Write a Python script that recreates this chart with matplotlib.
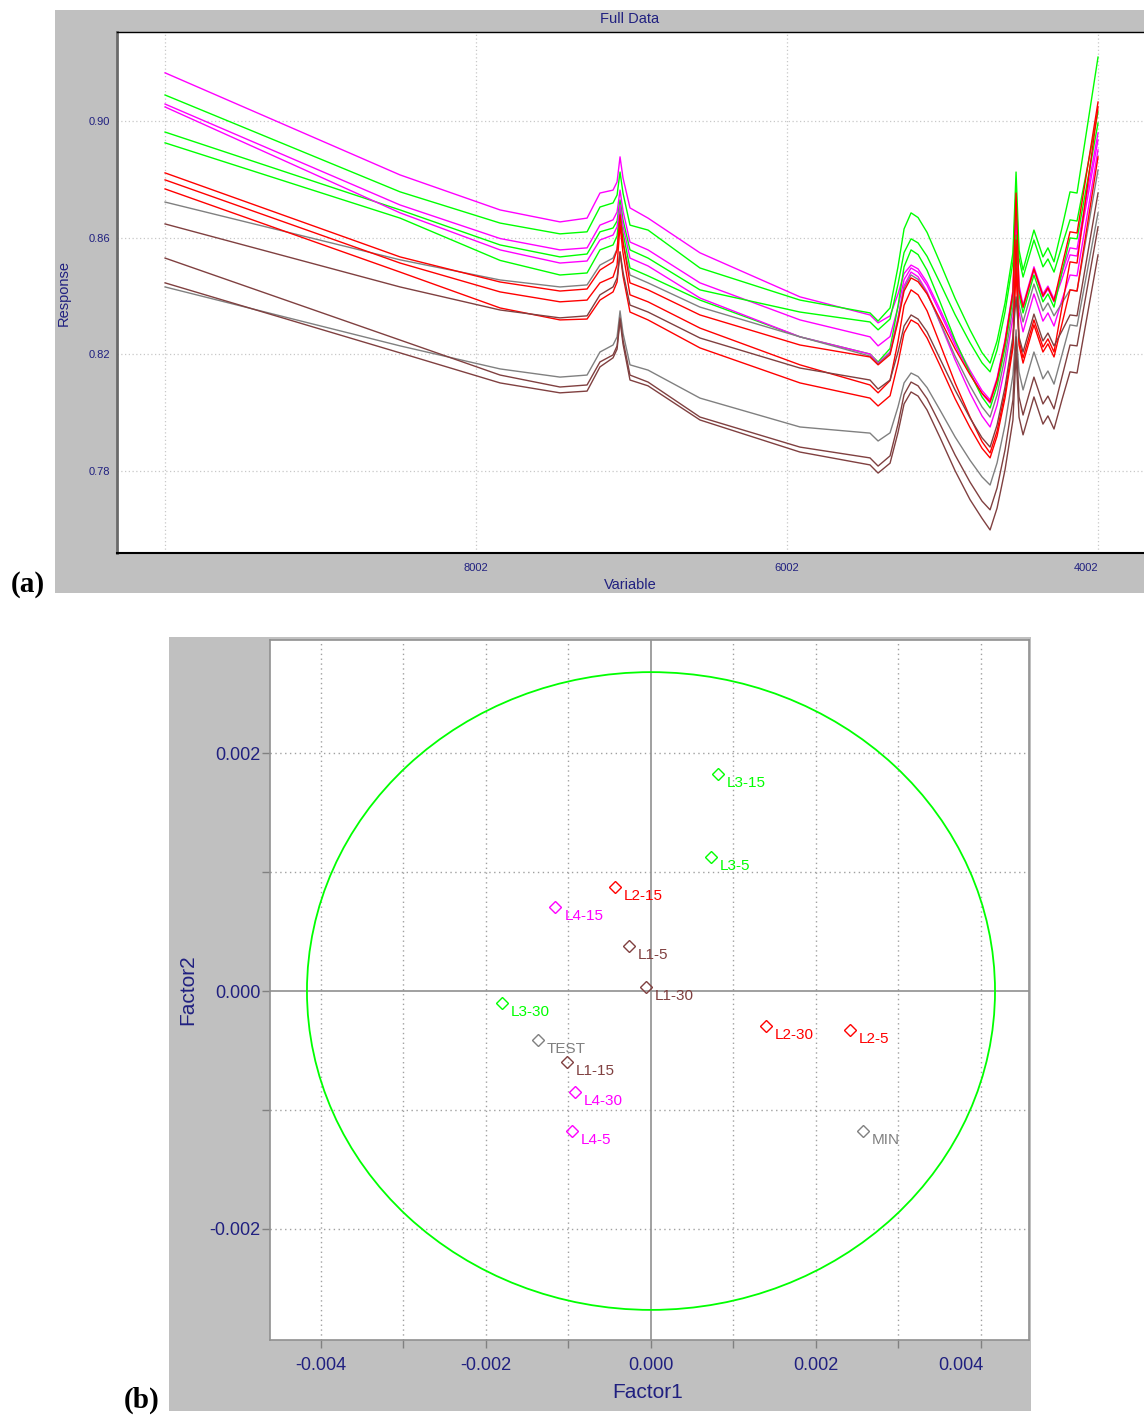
import matplotlib
matplotlib.use("Agg")
import matplotlib.pyplot as plt
import matplotlib.transforms as mtransforms
from matplotlib.patches import Rectangle, Ellipse
from matplotlib import font_manager

_names = {f.name for f in font_manager.fontManager.ttflist}
SANS = "Liberation Sans" if "Liberation Sans" in _names else "DejaVu Sans"
NARROW = "Liberation Sans Narrow" if "Liberation Sans Narrow" in _names else SANS
SERIF = "Liberation Serif" if "Liberation Serif" in _names else "DejaVu Serif"

# ---------------- panel (a): spectra ----------------
wavenumber = [10002, 8491, 7848, 7463, 7289, 7206, 7122, 7096, 7077, 7058, 7013, 6897,
              6563, 5920, 5470, 5418, 5341, 5290, 5251, 5206, 5161, 5103, 5020, 4923,
              4827, 4750, 4698, 4653, 4602, 4551, 4531, 4512, 4486, 4416, 4358, 4326,
              4287, 4236, 4184, 4139, 4004]

spec_L4_a = [0.9165, 0.8815, 0.8695, 0.8654, 0.8667, 0.8753, 0.8763, 0.8791, 0.8877, 0.8805, 0.8702, 0.8667,
             0.8548, 0.8397, 0.8335, 0.8308, 0.8332, 0.8407, 0.8477, 0.8506, 0.8493, 0.8446, 0.8354, 0.8242,
             0.8145, 0.8076, 0.8044, 0.8119, 0.8249, 0.8421, 0.8685, 0.8438, 0.8369, 0.8500, 0.8407, 0.8434,
             0.8390, 0.8479, 0.8565, 0.8561, 0.8959]
spec_L3_a = [0.9089, 0.8757, 0.8650, 0.8613, 0.8620, 0.8705, 0.8719, 0.8746, 0.8825, 0.8753, 0.8643, 0.8626,
             0.8496, 0.8386, 0.8342, 0.8314, 0.8359, 0.8500, 0.8630, 0.8685, 0.8669, 0.8618, 0.8515, 0.8392,
             0.8284, 0.8206, 0.8170, 0.8246, 0.8376, 0.8548, 0.8825, 0.8558, 0.8489, 0.8626, 0.8534, 0.8565,
             0.8517, 0.8633, 0.8757, 0.8753, 0.9219]
spec_L4_b = [0.9058, 0.8712, 0.8597, 0.8558, 0.8565, 0.8643, 0.8661, 0.8688, 0.8763, 0.8692, 0.8585, 0.8558,
             0.8445, 0.8318, 0.8260, 0.8229, 0.8261, 0.8362, 0.8456, 0.8496, 0.8482, 0.8436, 0.8343, 0.8232,
             0.8135, 0.8065, 0.8033, 0.8109, 0.8239, 0.8410, 0.8661, 0.8421, 0.8359, 0.8489, 0.8397, 0.8424,
             0.8380, 0.8458, 0.8541, 0.8537, 0.8935]
spec_L3_b = [0.8962, 0.8695, 0.8575, 0.8534, 0.8544, 0.8620, 0.8633, 0.8657, 0.8729, 0.8661, 0.8558, 0.8530,
             0.8421, 0.8345, 0.8311, 0.8284, 0.8321, 0.8440, 0.8549, 0.8596, 0.8582, 0.8536, 0.8445, 0.8336,
             0.8240, 0.8171, 0.8140, 0.8215, 0.8345, 0.8517, 0.8763, 0.8530, 0.8465, 0.8592, 0.8500, 0.8527,
             0.8482, 0.8572, 0.8661, 0.8657, 0.9031]
spec_L3_c = [0.8925, 0.8667, 0.8522, 0.8472, 0.8479, 0.8558, 0.8575, 0.8606, 0.8695, 0.8616, 0.8496, 0.8469,
             0.8386, 0.8260, 0.8201, 0.8174, 0.8220, 0.8366, 0.8500, 0.8558, 0.8542, 0.8488, 0.8380, 0.8249,
             0.8136, 0.8054, 0.8016, 0.8092, 0.8222, 0.8393, 0.8609, 0.8404, 0.8342, 0.8472, 0.8380, 0.8407,
             0.8362, 0.8482, 0.8599, 0.8596, 0.8993]
spec_L4_c = [0.9048, 0.8685, 0.8558, 0.8513, 0.8520, 0.8592, 0.8609, 0.8637, 0.8712, 0.8640, 0.8530, 0.8503,
             0.8393, 0.8260, 0.8201, 0.8170, 0.8208, 0.8326, 0.8435, 0.8482, 0.8466, 0.8414, 0.8308, 0.8181,
             0.8068, 0.7989, 0.7951, 0.8026, 0.8157, 0.8328, 0.8541, 0.8345, 0.8277, 0.8407, 0.8314, 0.8342,
             0.8297, 0.8386, 0.8472, 0.8469, 0.8901]
spec_TEST = [0.8722, 0.8524, 0.8455, 0.8431, 0.8438, 0.8506, 0.8530, 0.8561, 0.8661, 0.8585, 0.8472, 0.8445,
             0.8362, 0.8260, 0.8194, 0.8167, 0.8204, 0.8320, 0.8426, 0.8472, 0.8457, 0.8409, 0.8311, 0.8194,
             0.8092, 0.8020, 0.7985, 0.8061, 0.8191, 0.8362, 0.8524, 0.8369, 0.8311, 0.8441, 0.8349, 0.8376,
             0.8332, 0.8376, 0.8421, 0.8417, 0.8832]
spec_L2_a = [0.8822, 0.8534, 0.8448, 0.8417, 0.8424, 0.8489, 0.8517, 0.8558, 0.8678, 0.8585, 0.8445, 0.8421,
             0.8335, 0.8232, 0.8191, 0.8164, 0.8199, 0.8313, 0.8417, 0.8462, 0.8449, 0.8407, 0.8321, 0.8219,
             0.8130, 0.8067, 0.8037, 0.8112, 0.8242, 0.8414, 0.8753, 0.8421, 0.8362, 0.8493, 0.8400, 0.8428,
             0.8383, 0.8503, 0.8620, 0.8616, 0.9065]
spec_L2_b = [0.8798, 0.8513, 0.8414, 0.8380, 0.8386, 0.8445, 0.8465, 0.8506, 0.8643, 0.8548, 0.8404, 0.8380,
             0.8290, 0.8164, 0.8095, 0.8068, 0.8110, 0.8244, 0.8368, 0.8421, 0.8404, 0.8349, 0.8236, 0.8102,
             0.7985, 0.7901, 0.7862, 0.7937, 0.8068, 0.8239, 0.8592, 0.8249, 0.8188, 0.8318, 0.8225, 0.8253,
             0.8208, 0.8362, 0.8517, 0.8513, 0.9048]
spec_L2_c = [0.8767, 0.8482, 0.8359, 0.8318, 0.8321, 0.8386, 0.8414, 0.8448, 0.8551, 0.8469, 0.8345, 0.8318,
             0.8222, 0.8102, 0.8050, 0.8023, 0.8058, 0.8170, 0.8273, 0.8318, 0.8304, 0.8256, 0.8162, 0.8048,
             0.7949, 0.7878, 0.7845, 0.7920, 0.8050, 0.8222, 0.8496, 0.8232, 0.8170, 0.8301, 0.8208, 0.8236,
             0.8191, 0.8304, 0.8421, 0.8417, 0.8877]
spec_L1_a = [0.8647, 0.8431, 0.8352, 0.8325, 0.8332, 0.8404, 0.8431, 0.8462, 0.8551, 0.8482, 0.8369, 0.8345,
             0.8256, 0.8153, 0.8112, 0.8081, 0.8112, 0.8208, 0.8297, 0.8335, 0.8321, 0.8277, 0.8185, 0.8078,
             0.7982, 0.7914, 0.7882, 0.7958, 0.8088, 0.8260, 0.8397, 0.8260, 0.8208, 0.8338, 0.8246, 0.8273,
             0.8229, 0.8280, 0.8335, 0.8332, 0.8753]
spec_MIN = [0.8431, 0.8229, 0.8150, 0.8122, 0.8129, 0.8208, 0.8232, 0.8260, 0.8349, 0.8273, 0.8164, 0.8146,
            0.8050, 0.7951, 0.7930, 0.7903, 0.7931, 0.8020, 0.8102, 0.8136, 0.8124, 0.8086, 0.8009, 0.7917,
            0.7837, 0.7780, 0.7752, 0.7828, 0.7958, 0.8129, 0.8284, 0.8140, 0.8078, 0.8208, 0.8116, 0.8143,
            0.8098, 0.8198, 0.8301, 0.8297, 0.8685]
spec_L1_b = [0.8530, 0.8249, 0.8129, 0.8088, 0.8095, 0.8174, 0.8198, 0.8229, 0.8325, 0.8249, 0.8129, 0.8105,
             0.7985, 0.7882, 0.7845, 0.7817, 0.7852, 0.7961, 0.8062, 0.8105, 0.8092, 0.8048, 0.7961, 0.7855,
             0.7762, 0.7697, 0.7667, 0.7742, 0.7872, 0.8044, 0.8260, 0.8054, 0.7992, 0.8122, 0.8030, 0.8057,
             0.8013, 0.8122, 0.8232, 0.8229, 0.8637]
spec_L1_c = [0.8445, 0.8205, 0.8102, 0.8068, 0.8074, 0.8157, 0.8188, 0.8218, 0.8318, 0.8236, 0.8112, 0.8092,
             0.7975, 0.7865, 0.7821, 0.7793, 0.7827, 0.7932, 0.8030, 0.8071, 0.8057, 0.8009, 0.7915, 0.7801,
             0.7702, 0.7638, 0.7598, 0.7673, 0.7804, 0.7975, 0.8205, 0.7985, 0.7924, 0.8054, 0.7961, 0.7989,
             0.7944, 0.8044, 0.8140, 0.8136, 0.8541]

x_ticks_a = [8002, 6002, 4002]
x_grid_a = [10002, 8002, 6002, 4002]
y_ticks_a = [0.78, 0.82, 0.86, 0.90]

# ---------------- panel (b): scores ----------------
samples = ["L3-15", "L3-5", "L2-15", "L4-15", "L1-5", "L1-30", "L3-30",
           "TEST", "L1-15", "L4-30", "L4-5", "L2-30", "L2-5", "MIN"]
factor1 = [0.00081, 0.00073, -0.00044, -0.00116, -0.00027, -0.00006, -0.00181,
           -0.00137, -0.00102, -0.00092, -0.00096, 0.00139, 0.00241, 0.00257]
factor2 = [0.00182, 0.00113, 0.00087, 0.00071, 0.00038, 0.00003, -0.00010,
           -0.00041, -0.00060, -0.00085, -0.00118, -0.00029, -0.00033, -0.00118]
ellipse_semi_f1 = 0.00417
ellipse_semi_f2 = 0.00268
x_ticks_b = [-0.004, -0.002, 0.000, 0.002, 0.004]
x_minor_b = [-0.003, -0.001, 0.001, 0.003]
y_ticks_b = [-0.002, 0.000, 0.002]
y_minor_b = [-0.001, 0.001]

GROUP_COLORS = {"L1": "#804040", "L2": "#FF0000", "L3": "#00FF00", "L4": "#FF00FF",
                "TEST": "#808080", "MIN": "#808080"}
NAVY = "#202080"

W, H = 1144, 1416
fig = plt.figure(figsize=(W / 100, H / 100), dpi=100)
fig.patch.set_facecolor("white")

# ---- panel (a) ----
fig.add_artist(Rectangle((55 / W, 1 - 593 / H), (W - 55) / W, 583 / H,
                         transform=fig.transFigure, facecolor="#C0C0C0",
                         edgecolor="none", zorder=0))
ax1 = fig.add_axes([117 / W, 1 - 553 / H, (1180 - 117) / W, 521 / H])
ax1.set_facecolor("white")
ax1.set_xlim(10311, 3477)
ax1.set_ylim(0.7519, 0.9305)

for xg in x_grid_a:
    ax1.axvline(xg, color="#C8C8C8", lw=0.9, ls=(0, (1, 2)), zorder=1)
for yg in y_ticks_a:
    ax1.axhline(yg, color="#C8C8C8", lw=0.9, ls=(0, (1, 2)), zorder=1)

series_a = [
    (spec_L4_a, "L4"), (spec_L3_a, "L3"), (spec_L4_b, "L4"), (spec_L3_b, "L3"),
    (spec_L3_c, "L3"), (spec_L4_c, "L4"), (spec_TEST, "TEST"), (spec_L2_a, "L2"),
    (spec_L2_b, "L2"), (spec_L2_c, "L2"), (spec_L1_a, "L1"), (spec_MIN, "MIN"),
    (spec_L1_b, "L1"), (spec_L1_c, "L1"),
]
for vals, grp in series_a:
    ax1.plot(wavenumber, vals, color=GROUP_COLORS[grp], lw=1.0, zorder=3,
             solid_joinstyle="round")

ax1.set_xticks(x_ticks_a)
ax1.set_xticklabels([str(v) for v in x_ticks_a])
ax1.set_yticks(y_ticks_a)
ax1.set_yticklabels(["%.2f" % v for v in y_ticks_a])
ax1.tick_params(axis="both", length=0, labelsize=8, labelcolor=NAVY)
ax1.tick_params(axis="x", pad=7)
ax1.tick_params(axis="y", pad=5)
for lab in ax1.get_xticklabels() + ax1.get_yticklabels():
    lab.set_fontfamily(SANS)
last = ax1.get_xticklabels()[-1]
last.set_transform(last.get_transform() + mtransforms.ScaledTranslation(-0.12, 0, fig.dpi_scale_trans))

ax1.spines["right"].set_visible(False)
ax1.spines["top"].set_color("black")
ax1.spines["top"].set_linewidth(1.0)
ax1.spines["left"].set_color("#6A6A6A")
ax1.spines["left"].set_linewidth(2.0)
ax1.spines["bottom"].set_color("black")
ax1.spines["bottom"].set_linewidth(1.5)

fig.text(630 / W, 1 - 19 / H, "Full Data", ha="center", va="center",
         fontsize=10.5, color=NAVY, family=SANS)
fig.text(630 / W, 1 - 585 / H, "Variable", ha="center", va="center",
         fontsize=10.5, color=NAVY, family=SANS)
fig.text(64 / W, 1 - 293 / H, "Response", ha="center", va="center", rotation=90,
         fontsize=10.5, color=NAVY, family=SANS)
fig.text(28 / W, 1 - 584 / H, "(a)", ha="center", va="center", fontsize=21,
         fontweight="bold", family=SERIF, color="black")

# ---- panel (b) ----
fig.add_artist(Rectangle((169 / W, 1 - 1411 / H), 862 / W, 774 / H,
                         transform=fig.transFigure, facecolor="#C0C0C0",
                         edgecolor="none", zorder=0))
ax2 = fig.add_axes([270 / W, 1 - 1340 / H, 759 / W, 700 / H])
ax2.set_facecolor("white")
ax2.set_xlim(-0.004618, 0.004582)
ax2.set_ylim(-0.002933, 0.002950)

for xg in x_ticks_b + x_minor_b:
    if xg != 0:
        ax2.axvline(xg, color="#A0A0A0", lw=1.0, ls=(0, (1, 2.5)), zorder=1)
for yg in y_ticks_b + y_minor_b:
    if yg != 0:
        ax2.axhline(yg, color="#A0A0A0", lw=1.0, ls=(0, (1, 2.5)), zorder=1)
ax2.axvline(0, color="#909090", lw=1.2, zorder=1)
ax2.axhline(0, color="#909090", lw=1.2, zorder=1)

ax2.add_patch(Ellipse((0, 0), 2 * ellipse_semi_f1, 2 * ellipse_semi_f2,
                      facecolor="none", edgecolor="#00FF00", lw=1.3, zorder=2))

for name, fx, fy in zip(samples, factor1, factor2):
    grp = name.split("-")[0]
    col = GROUP_COLORS[grp]
    ax2.plot([fx], [fy], marker="D", ms=6.5, mfc="none", mec=col, mew=1.0,
             ls="none", zorder=4)
    ax2.annotate(name, (fx, fy), xytext=(9, -9), textcoords="offset pixels",
                 ha="left", va="center", fontsize=11, color=col, family=SANS,
                 zorder=5)

ax2.set_xticks(x_ticks_b)
ax2.set_xticks(x_minor_b, minor=True)
ax2.set_xticklabels(["%.3f" % v for v in x_ticks_b])
ax2.set_yticks(y_ticks_b)
ax2.set_yticks(y_minor_b, minor=True)
ax2.set_yticklabels(["%.3f" % v for v in y_ticks_b])
ax2.tick_params(axis="both", which="both", direction="out", length=6,
                color="#808080", width=1.0)
ax2.tick_params(axis="both", which="major", labelsize=13, labelcolor=NAVY)
ax2.tick_params(axis="x", pad=6)
ax2.tick_params(axis="y", pad=1)
for lab in ax2.get_xticklabels() + ax2.get_yticklabels():
    lab.set_fontfamily(NARROW)
last = ax2.get_xticklabels()[-1]
last.set_transform(last.get_transform() + mtransforms.ScaledTranslation(-0.20, 0, fig.dpi_scale_trans))
for sp in ax2.spines.values():
    sp.set_color("#909090")
    sp.set_linewidth(1.2)

fig.text(648 / W, 1 - 1392 / H, "Factor1", ha="center", va="center",
         fontsize=15, color=NAVY, family=NARROW)
fig.text(188 / W, 1 - 990 / H, "Factor2", ha="center", va="center", rotation=90,
         fontsize=15, color=NAVY, family=NARROW)
fig.text(142 / W, 1 - 1400 / H, "(b)", ha="center", va="center", fontsize=21,
         fontweight="bold", family=SERIF, color="black")

fig.savefig("out.png", dpi=100, facecolor="white")
